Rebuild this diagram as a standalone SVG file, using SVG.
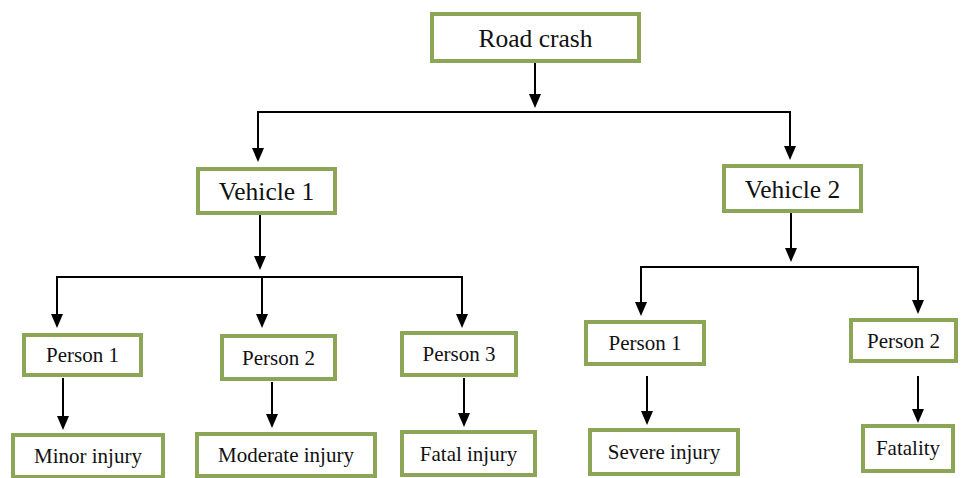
<svg xmlns="http://www.w3.org/2000/svg" width="961" height="478" viewBox="0 0 961 478">
  <style>
    .box rect { fill: #ffffff; stroke: #8ca556; stroke-width: 4; }
    .box text { fill: #111111; text-anchor: middle; }
    .big { font-size: 25.5px; }
    .small { font-size: 21px; }
    #connectors line { stroke: #000000; stroke-width: 2; fill: none; }
  </style>
  <rect width="961" height="478" fill="#ffffff"/>

  <!-- connectors: stems, bus lines and arrowheads -->
  <g id="connectors">
    <line x1="535" y1="63" x2="535" y2="100" />
    <line x1="257" y1="112" x2="791" y2="112" />
    <line x1="258" y1="112" x2="258" y2="154" />
    <line x1="790" y1="112" x2="790" y2="152" />

    <line x1="260" y1="215" x2="260" y2="262" />
    <line x1="56" y1="277" x2="463" y2="277" />
    <line x1="57" y1="277" x2="57" y2="320" />
    <line x1="262" y1="277" x2="262" y2="320" />
    <line x1="462" y1="277" x2="462" y2="320" />

    <line x1="791" y1="213" x2="791" y2="254" />
    <line x1="640" y1="267" x2="919" y2="267" />
    <line x1="641" y1="267" x2="641" y2="308" />
    <line x1="918" y1="267" x2="918" y2="306" />

    <line x1="63" y1="378" x2="63" y2="422" />
    <line x1="272" y1="382" x2="272" y2="420" />
    <line x1="464" y1="378" x2="464" y2="419" />
    <line x1="647" y1="376" x2="647" y2="417" />
    <line x1="918" y1="376" x2="918" y2="415" />

    <g fill="#000000">
      <path d="M529,94 L541,94 L535,108 Z"/>
      <path d="M252,148 L264,148 L258,162 Z"/>
      <path d="M784,146 L796,146 L790,160 Z"/>
      <path d="M254,256 L266,256 L260,270 Z"/>
      <path d="M51,314 L63,314 L57,328 Z"/>
      <path d="M256,314 L268,314 L262,328 Z"/>
      <path d="M456,314 L468,314 L462,328 Z"/>
      <path d="M785,248 L797,248 L791,262 Z"/>
      <path d="M635,302 L647,302 L641,316 Z"/>
      <path d="M912,300 L924,300 L918,314 Z"/>
      <path d="M57,416 L69,416 L63,430 Z"/>
      <path d="M266,414 L278,414 L272,428 Z"/>
      <path d="M458,413 L470,413 L464,427 Z"/>
      <path d="M641,411 L653,411 L647,425 Z"/>
      <path d="M912,409 L924,409 L918,423 Z"/>
    </g>
  </g>

  <g font-family="Liberation Serif, DejaVu Serif, serif">
  <g id="road-crash" class="box">
    <rect x="432" y="14" width="207" height="47"/>
    <text class="big" x="535.5" y="47">Road crash</text>
  </g>
  <g id="vehicle-1" class="box">
    <rect x="198" y="169" width="137" height="44"/>
    <text class="big" x="266.5" y="199.5">Vehicle 1</text>
  </g>
  <g id="vehicle-2" class="box">
    <rect x="724" y="166" width="137" height="45"/>
    <text class="big" x="792.5" y="197.5">Vehicle 2</text>
  </g>

  <g id="v1-person-1" class="box">
    <rect x="24" y="335" width="117" height="40"/>
    <text class="small" x="82.5" y="362">Person 1</text>
  </g>
  <g id="v1-person-2" class="box">
    <rect x="222" y="336" width="113" height="43"/>
    <text class="small" x="278.5" y="364.5">Person 2</text>
  </g>
  <g id="v1-person-3" class="box">
    <rect x="402" y="333" width="114" height="42"/>
    <text class="small" x="459" y="361">Person 3</text>
  </g>
  <g id="v2-person-1" class="box">
    <rect x="586" y="322" width="118" height="42"/>
    <text class="small" x="645" y="350">Person 1</text>
  </g>
  <g id="v2-person-2" class="box">
    <rect x="851" y="320" width="105" height="41"/>
    <text class="small" x="903.5" y="347.5">Person 2</text>
  </g>

  <g id="minor-injury" class="box">
    <rect x="13" y="435" width="150" height="42"/>
    <text class="small" x="88" y="463">Minor injury</text>
  </g>
  <g id="moderate-injury" class="box">
    <rect x="197" y="434" width="178" height="42"/>
    <text class="small" x="286" y="462">Moderate injury</text>
  </g>
  <g id="fatal-injury" class="box">
    <rect x="402" y="432" width="133" height="43"/>
    <text class="small" x="468.5" y="460.5">Fatal injury</text>
  </g>
  <g id="severe-injury" class="box">
    <rect x="590" y="430" width="148" height="44"/>
    <text class="small" x="664" y="459">Severe injury</text>
  </g>
  <g id="fatality" class="box">
    <rect x="863" y="426" width="90" height="45"/>
    <text class="small" x="908" y="455">Fatality</text>
  </g>
  </g>
</svg>
